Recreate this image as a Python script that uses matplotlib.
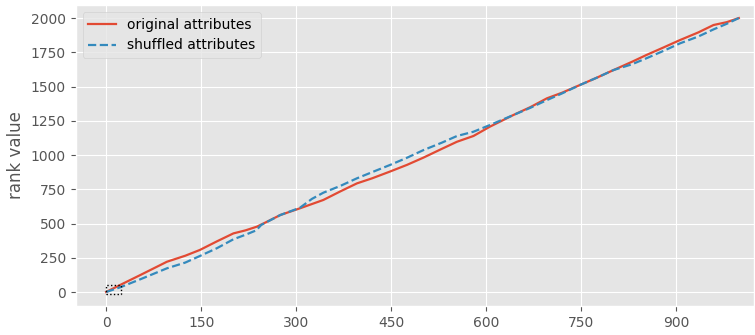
import matplotlib
matplotlib.use("Agg")
import matplotlib.pyplot as plt
from matplotlib.patches import Rectangle

plt.style.use("ggplot")

# rank value of each attribute position
orig_x = [0, 22, 54, 96, 125, 148, 175, 201, 220, 238, 254, 275, 306, 343, 370,
          396, 420, 448, 475, 501, 530, 554, 580, 606, 643, 670, 696, 720, 748,
          775, 801, 830, 853, 880, 906, 935, 959, 980, 999]
orig_rank = [0, 51, 124, 221, 265, 307, 370, 428, 450, 477, 513, 562, 611, 672, 735,
             793, 830, 879, 928, 981, 1045, 1097, 1139, 1207, 1292, 1350, 1414, 1455, 1511,
             1565, 1620, 1680, 1730, 1785, 1839, 1895, 1949, 1970, 2000]

shuf_x = [0, 22, 54, 96, 125, 148, 175, 201, 220, 237, 245, 275, 306, 325, 343,
          370, 396, 420, 448, 475, 501, 530, 554, 580, 606, 643, 670, 696, 720, 748,
          775, 801, 830, 853, 880, 906, 935, 959, 980, 999]
shuf_rank = [0, 34, 93, 173, 215, 263, 320, 385, 418, 450, 490, 562, 615, 680, 725,
             775, 830, 875, 927, 980, 1036, 1090, 1139, 1170, 1219, 1292, 1345, 1401, 1450, 1511,
             1565, 1620, 1662, 1706, 1760, 1815, 1865, 1917, 1958, 2000]

xticks = [0, 150, 300, 450, 600, 750, 900]
yticks = [0, 250, 500, 750, 1000, 1250, 1500, 1750, 2000]

fig = plt.figure(figsize=(7.55, 3.35), dpi=100)
ax = fig.add_axes([0.1003, 0.0866, 0.8984, 0.8984])

ax.plot(orig_x, orig_rank, color="#E24A33", lw=1.6, label="original attributes")
ax.plot(shuf_x, shuf_rank, color="#348ABD", lw=1.6, ls="--", label="shuffled attributes")

# zoom region marker near the origin
ax.add_patch(Rectangle((0, -12), 24, 64, fill=False, ec="black", ls=":", lw=1.0, zorder=3))

ax.set_xlim(-48, 1023)
ax.set_ylim(-102, 2095)
ax.set_xticks(xticks)
ax.set_yticks(yticks)
ax.tick_params(labelsize=10)
ax.set_ylabel("rank value", fontsize=12)
ax.legend(loc="upper left", fontsize=10)

fig.savefig("out.png", dpi=100)
